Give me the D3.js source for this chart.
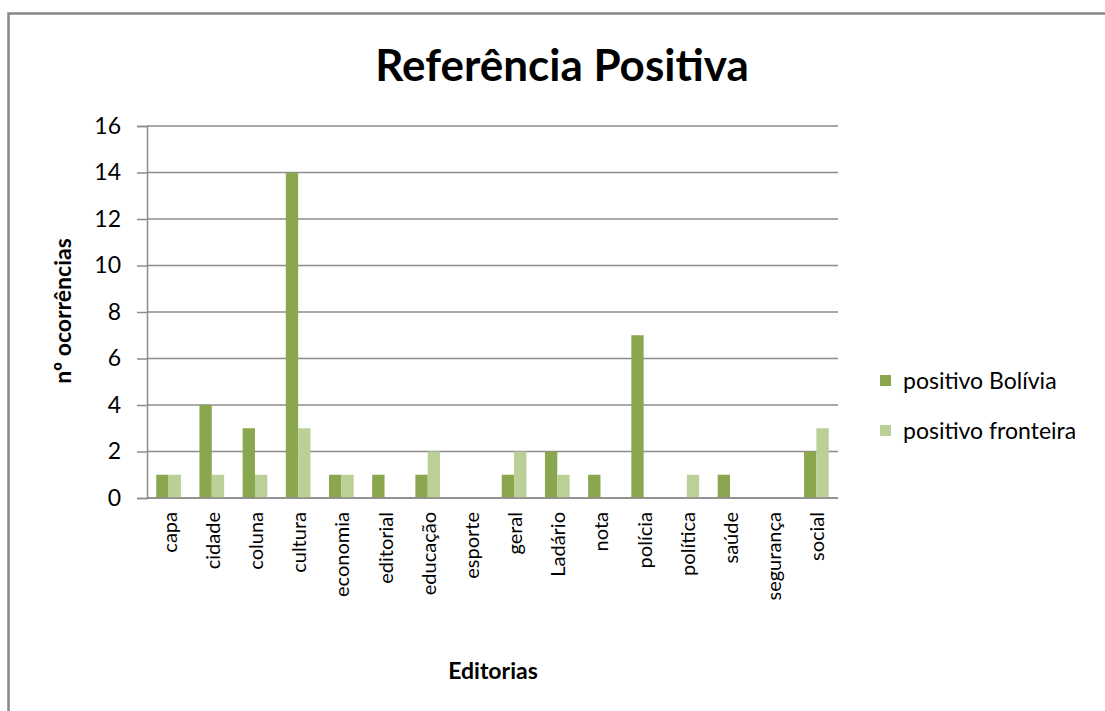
<!DOCTYPE html>
<html>
<head>
<meta charset="utf-8">
<script src="https://cdn.jsdelivr.net/npm/d3@7"></script>
<style>
  html, body { margin: 0; padding: 0; background: #fff; }
  svg { display: block; }
  text { font-family: Lato, "Open Sans", sans-serif; fill: #000; }
</style>
</head>
<body>
<svg id="chart" width="1105" height="711"></svg>
<script>
// Editorias (categories) and occurrence counts per series
const categories = ["capa", "cidade", "coluna", "cultura", "economia", "editorial", "educação", "esporte",
                    "geral", "Ladário", "nota", "polícia", "política", "saúde", "segurança", "social"];
const positivoBolivia   = [1, 4, 3, 14, 1, 1, 1, 0, 1, 2, 1, 7, 0, 1, 0, 2];
const positivoFronteira = [1, 1, 1, 3, 1, 0, 2, 0, 2, 1, 0, 0, 1, 0, 0, 3];
const seriesNames = ["positivo Bolívia", "positivo fronteira"];
const yTicks = [0, 2, 4, 6, 8, 10, 12, 14, 16];

const colors = ["#8aa64e", "#bbd097"];
const gridColor = "#8c8c8c";

const svg = d3.select("#chart");

// outer chart frame
svg.append("rect")
  .attr("x", 8.5).attr("y", 13.5)
  .attr("width", 1110).attr("height", 720)
  .attr("fill", "#fff").attr("stroke", "#888").attr("stroke-width", 2.5);

const plot = { left: 147, right: 838, top: 126, bottom: 498 };

const x = d3.scaleBand().domain(categories).range([plot.left, plot.right]).paddingInner(0).paddingOuter(0);
const xs = d3.scaleBand().domain(seriesNames).range([0, x.bandwidth()]).paddingInner(0).paddingOuter(0.75);
const y = d3.scaleLinear().domain([0, 16]).range([plot.bottom, plot.top]);

// horizontal gridlines
svg.append("g").selectAll("line").data(yTicks).join("line")
  .attr("x1", plot.left).attr("x2", plot.right)
  .attr("y1", d => y(d)).attr("y2", d => y(d))
  .attr("stroke", gridColor).attr("stroke-width", 1.5);

// y axis
const yAxis = svg.append("g")
  .attr("transform", `translate(${plot.left},0)`)
  .call(d3.axisLeft(y).tickValues(yTicks).tickSize(10).tickPadding(16).tickFormat(d3.format("d")));
yAxis.select(".domain").attr("stroke", gridColor).attr("stroke-width", 1.5);
yAxis.selectAll(".tick line").attr("stroke", gridColor).attr("stroke-width", 1.5);
yAxis.selectAll(".tick text").attr("font-size", 23).attr("font-family", "Lato, sans-serif").attr("fill", "#000");

// bars
const data = [positivoBolivia, positivoFronteira];
const groups = svg.append("g").selectAll("g").data(categories).join("g")
  .attr("transform", d => `translate(${x(d)},0)`);
groups.selectAll("rect")
  .data((c, i) => data.map((s, k) => ({ name: seriesNames[k], value: s[i], k })))
  .join("rect")
  .attr("x", d => xs(d.name))
  .attr("width", xs.bandwidth())
  .attr("y", d => y(d.value))
  .attr("height", d => y(0) - y(d.value))
  .attr("fill", d => colors[d.k]);

// x axis baseline
svg.append("line")
  .attr("x1", plot.left).attr("x2", plot.right)
  .attr("y1", y(0)).attr("y2", y(0))
  .attr("stroke", gridColor).attr("stroke-width", 1.5);

// rotated category labels
svg.append("g").selectAll("text").data(categories).join("text")
  .attr("transform", d => `translate(${x(d) + x.bandwidth() / 2 + 8},512) rotate(-90)`)
  .attr("text-anchor", "end")
  .attr("font-size", 20)
  .text(d => d);

// title
svg.append("text")
  .attr("x", 562).attr("y", 81)
  .attr("text-anchor", "middle")
  .attr("font-size", 44).attr("font-weight", "bold")
  .text("Referência Positiva");

// axis titles
svg.append("text")
  .attr("x", 493).attr("y", 679)
  .attr("text-anchor", "middle")
  .attr("font-size", 23).attr("font-weight", "bold")
  .text("Editorias");

svg.append("text")
  .attr("transform", "translate(71,311) rotate(-90)")
  .attr("text-anchor", "middle")
  .attr("font-size", 23).attr("font-weight", "bold")
  .text("nº ocorrências");

// legend
const legend = svg.append("g").selectAll("g").data(seriesNames).join("g")
  .attr("transform", (d, i) => `translate(880,${375 + i * 50})`);
legend.append("rect")
  .attr("width", 11).attr("height", 11)
  .attr("fill", (d, i) => colors[i]);
legend.append("text")
  .attr("x", 23).attr("y", 14)
  .attr("font-size", 23)
  .text(d => d);
</script>
</body>
</html>
